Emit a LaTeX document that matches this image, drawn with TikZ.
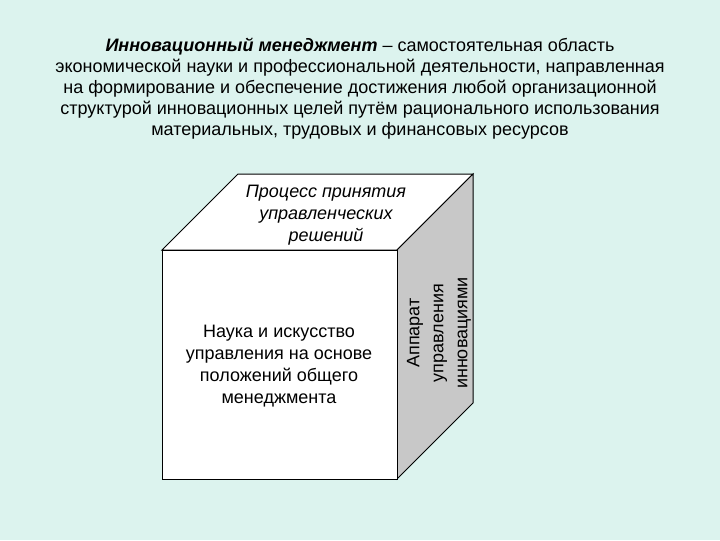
\documentclass[tikz,border=0pt]{standalone}
\usepackage{fontspec}
\setmainfont{Liberation Sans}
\definecolor{slidebg}{RGB}{220,243,238}
\definecolor{sideface}{RGB}{200,200,200}
\tikzset{
  cubetext/.style={align=center, inner sep=0pt, font=\fontsize{13.5}{16.5}\selectfont},
}

\begin{document}
\begin{tikzpicture}[x=0.75pt,y=0.75pt,yscale=-1,xscale=1]
    \useasboundingbox (0,0) rectangle (720,540);
    %Background
    \fill [slidebg] (0,0) rectangle (720,540);

    %Shape: Cube top face
    \draw [fill=white, line width=0.75] (162,250) -- (238,174) -- (473,174) -- (397,250) -- cycle ;
    %Shape: Cube right face
    \draw [fill=sideface, line width=0.75] (397,250) -- (473,174) -- (473,403) -- (397,479) -- cycle ;
    %Shape: Cube front face
    \draw [fill=white, line width=0.75] (162,250) -- (397,250) -- (397,479) -- (162,479) -- cycle ;

    %Text: definition
    \node [align=center, inner sep=0pt, font=\fontsize{13.5}{15.75}\selectfont] (definition) at (360,89) {\textbf{\textit{Инновационный менеджмент}} -- самостоятельная область\\экономической науки и профессиональной деятельности, направленная\\на формирование и обеспечение достижения любой организационной\\структурой инновационных целей путём рационального использования\\материальных, трудовых и финансовых ресурсов};
    %Text: top face
    \node [cubetext, font=\fontsize{13.5}{16.5}\selectfont\itshape] (decisions) at (326,215) {Процесс принятия\\управленческих\\решений};
    %Text: front face
    \node [cubetext] (science) at (279,366) {Наука и искусство\\управления на основе\\положений общего\\менеджмента};
    %Text: right face
    \node [cubetext, font=\fontsize{13.5}{18}\selectfont, rotate=90] (apparatus) at (439,333) {Аппарат\\управления\\инновациями};
\end{tikzpicture}
\end{document}
